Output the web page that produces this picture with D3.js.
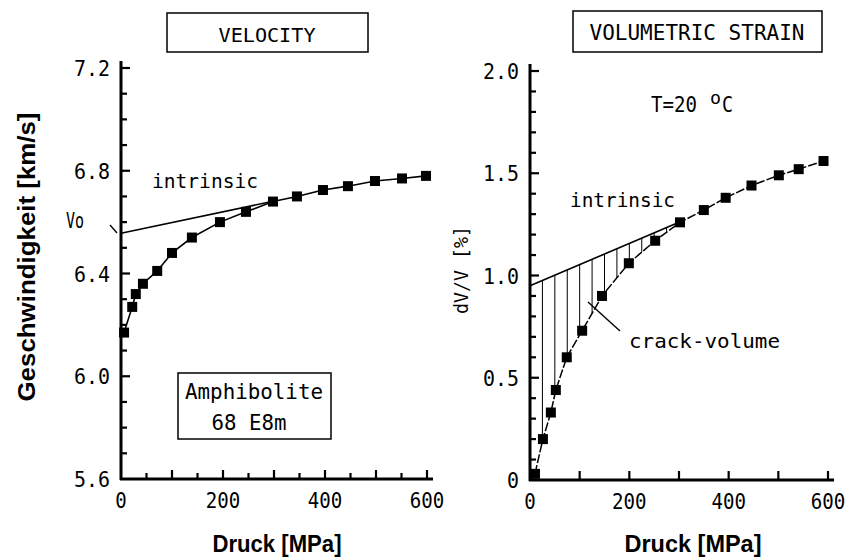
<!DOCTYPE html>
<html>
<head>
<meta charset="utf-8">
<script src="https://cdn.jsdelivr.net/npm/d3@7"></script>
<style>
  body { margin: 0; background: #fff; }
  svg { display: block; }
</style>
</head>
<body>
<div id="chart"></div>
<script>
const WIDTH = 851, HEIGHT = 558;
const PLOT_FONT = "'DejaVu Sans Mono', monospace";
const BOLD_FONT = "'Liberation Sans', Arial, sans-serif";

// velocity panel
const velPressure = [6, 22, 29, 43, 71, 100, 139, 194, 245, 298, 345, 396, 445, 498, 551, 598];
const velValues   = [6.17, 6.27, 6.32, 6.36, 6.41, 6.48, 6.54, 6.60, 6.64, 6.68, 6.70, 6.725, 6.74, 6.76, 6.77, 6.78];
const velIntrinsicP = [0, 300];
const velIntrinsicV = [6.557, 6.682];
const velTickLabels = [5.6, 6.0, 6.4, 6.8, 7.2];

// volumetric strain panel
const strPressure = [10, 26, 42, 52, 74, 105, 145, 199, 252, 302, 350, 394, 446, 501, 541, 591];
const strValues   = [0.03, 0.20, 0.33, 0.44, 0.60, 0.73, 0.90, 1.06, 1.17, 1.26, 1.32, 1.38, 1.44, 1.49, 1.52, 1.56];
const strIntrinsicP = [0, 300];
const strIntrinsicV = [0.95, 1.26];
const strTickLabels = [0, 0.5, 1.0, 1.5, 2.0];

const pressureLabels = [0, 200, 400, 600];

const svg = d3.select("#chart").append("svg")
  .attr("width", WIDTH).attr("height", HEIGHT);

// plotter style text, squeezed to the width seen in the picture
function ptext(g, x, y, str, len, size, anchor) {
  const t = g.append("text")
    .attr("x", x).attr("y", y)
    .attr("font-family", PLOT_FONT)
    .attr("font-size", size || 21)
    .attr("text-anchor", anchor || "start")
    .text(str);
  if (len) t.attr("textLength", len).attr("lengthAdjust", "spacingAndGlyphs");
  return t;
}

function panel(opt) {
  const g = svg.append("g");
  const x = d3.scaleLinear().domain([0, 600]).range(opt.xRange);
  const y = d3.scaleLinear().domain(opt.yDomain).range(opt.yRange);
  const x0 = x(0), y0 = y(opt.yDomain[0]);

  const isLab = (arr, d) => arr.some(l => Math.abs(l - d) < 1e-6);

  // x ticks (pointing up into the plot)
  const xTicks = d3.range(opt.xStep, 601, opt.xStep);
  g.selectAll("line.xt").data(xTicks).enter().append("line")
    .attr("class", "xt")
    .attr("x1", d => x(d)).attr("x2", d => x(d))
    .attr("y1", y0).attr("y2", d => y0 - (d % 100 === 0 ? 9 : 6))
    .attr("stroke", "#000").attr("stroke-width", 2.2);
  g.selectAll("text.xl").data(pressureLabels).enter().append("text")
    .attr("class", "xl")
    .attr("x", d => x(d)).attr("y", y0 + 29)
    .attr("text-anchor", "middle")
    .attr("font-family", PLOT_FONT).attr("font-size", 21)
    .attr("textLength", d => String(d).length * 11.5)
    .attr("lengthAdjust", "spacingAndGlyphs")
    .text(d => d);

  // y ticks (pointing right into the plot)
  const yTicks = d3.range(1, opt.nMinor + 1).map(i => opt.yDomain[0] + i * opt.minor);
  g.selectAll("line.yt").data(yTicks).enter().append("line")
    .attr("class", "yt")
    .attr("x1", x0).attr("x2", d => x0 + (isLab(opt.labels, d) ? 9 : 6))
    .attr("y1", d => y(d)).attr("y2", d => y(d))
    .attr("stroke", "#000").attr("stroke-width", 2.2);
  g.selectAll("text.yl").data(opt.labels).enter().append("text")
    .attr("class", "yl")
    .attr("x", x0 - 11).attr("y", d => y(d) + 8)
    .attr("text-anchor", "end")
    .attr("font-family", PLOT_FONT).attr("font-size", 21)
    .attr("textLength", d => (d === 0 ? 1 : 3) * 12)
    .attr("lengthAdjust", "spacingAndGlyphs")
    .text(d => d === 0 ? "0" : d.toFixed(1));

  // axis lines, running a little past the last tick
  g.append("line")
    .attr("x1", x0 - 1).attr("x2", x(600) + 6)
    .attr("y1", y0).attr("y2", y0)
    .attr("stroke", "#000").attr("stroke-width", 3);
  g.append("line")
    .attr("x1", x0).attr("x2", x0)
    .attr("y1", y0 + 1).attr("y2", y(opt.yDomain[1]) - 7)
    .attr("stroke", "#000").attr("stroke-width", 3);

  return { g, x, y };
}

const line = (x, y) => d3.line().x(d => x(d[0])).y(d => y(d[1]));

// ---------- left: velocity ----------
const L = panel({
  xRange: [121, 427], yDomain: [5.6, 7.2], yRange: [479, 68],
  xStep: 50, minor: 0.1, nMinor: 16, labels: velTickLabels
});

L.g.append("path")
  .datum(velIntrinsicP.map((p, i) => [p, velIntrinsicV[i]]))
  .attr("d", line(L.x, L.y))
  .attr("fill", "none").attr("stroke", "#000").attr("stroke-width", 1.6);

L.g.append("path")
  .datum(velPressure.map((p, i) => [p, velValues[i]]))
  .attr("d", line(L.x, L.y))
  .attr("fill", "none").attr("stroke", "#000").attr("stroke-width", 1.6);

L.g.selectAll("rect.pt")
  .data(velPressure.map((p, i) => [p, velValues[i]]))
  .enter().append("rect")
  .attr("class", "pt")
  .attr("x", d => L.x(d[0]) - 5).attr("y", d => L.y(d[1]) - 5)
  .attr("width", 10).attr("height", 10).attr("fill", "#000");

// title box
svg.append("rect").attr("x", 167).attr("y", 13).attr("width", 201).attr("height", 39)
  .attr("fill", "none").attr("stroke", "#000").attr("stroke-width", 1.5);
ptext(svg, 267, 42, "VELOCITY", 97, 20, "middle");

ptext(svg, 152, 188, "intrinsic", 106, 20);
ptext(svg, 66, 228, "Vo", 18, 21);
svg.append("line").attr("x1", 110).attr("y1", 225).attr("x2", 117).attr("y2", 233)
  .attr("stroke", "#000").attr("stroke-width", 1.4);

svg.append("rect").attr("x", 178).attr("y", 373).attr("width", 153).attr("height", 66)
  .attr("fill", "none").attr("stroke", "#000").attr("stroke-width", 1.5);
ptext(svg, 254, 399, "Amphibolite", 138, 21, "middle");
ptext(svg, 249, 430, "68 E8m", 75, 21, "middle");

svg.append("text")
  .attr("transform", "translate(35,257) rotate(-90)")
  .attr("text-anchor", "middle")
  .attr("font-family", BOLD_FONT).attr("font-weight", "bold").attr("font-size", 24)
  .attr("textLength", 289).attr("lengthAdjust", "spacingAndGlyphs")
  .text("Geschwindigkeit  [km/s]");

svg.append("text")
  .attr("x", 277).attr("y", 552).attr("text-anchor", "middle")
  .attr("font-family", BOLD_FONT).attr("font-weight", "bold").attr("font-size", 23)
  .attr("textLength", 129).attr("lengthAdjust", "spacingAndGlyphs")
  .text("Druck [MPa]");

// ---------- right: volumetric strain ----------
const R = panel({
  xRange: [530, 828], yDomain: [0, 2.0], yRange: [480, 71],
  xStep: 100, minor: 0.1, nMinor: 20, labels: strTickLabels
});

const strData = strPressure.map((p, i) => [p, strValues[i]]);
const strIntr = strIntrinsicP.map((p, i) => [p, strIntrinsicV[i]]);

// hatched crack volume: area between intrinsic line and measured curve
const lastP = strIntrinsicP[strIntrinsicP.length - 1];
const lower = strData.filter(d => d[0] <= lastP).reverse();
const clipPts = strIntr.concat(lower).concat([[0, lower[lower.length - 1][1]]]);
svg.append("clipPath").attr("id", "crackClip")
  .append("path")
  .attr("d", d3.line().x(d => R.x(d[0])).y(d => R.y(d[1]))(clipPts) + "Z");

R.g.append("g").attr("clip-path", "url(#crackClip)")
  .selectAll("line")
  .data(d3.range(25, lastP, 25))
  .enter().append("line")
  .attr("x1", d => R.x(d)).attr("x2", d => R.x(d))
  .attr("y1", R.y(2)).attr("y2", R.y(0))
  .attr("stroke", "#000").attr("stroke-width", 1);

R.g.append("path").datum(strIntr)
  .attr("d", line(R.x, R.y))
  .attr("fill", "none").attr("stroke", "#000").attr("stroke-width", 1.6);

R.g.append("path").datum(strData)
  .attr("d", line(R.x, R.y))
  .attr("fill", "none").attr("stroke", "#000").attr("stroke-width", 1.5)
  .attr("stroke-dasharray", "9,2");

R.g.selectAll("rect.pt")
  .data(strData)
  .enter().append("rect")
  .attr("class", "pt")
  .attr("x", d => R.x(d[0]) - 5).attr("y", d => R.y(d[1]) - 5)
  .attr("width", 10).attr("height", 10).attr("fill", "#000");

svg.append("rect").attr("x", 573).attr("y", 11).attr("width", 249).attr("height", 41)
  .attr("fill", "none").attr("stroke", "#000").attr("stroke-width", 1.5);
ptext(svg, 697, 40, "VOLUMETRIC STRAIN", 215, 21, "middle");

ptext(svg, 651, 112, "T=20", 46, 21);
ptext(svg, 710, 104, "o", 11, 17);
ptext(svg, 722, 112, "C", 11, 21);

ptext(svg, 570, 207, "intrinsic", 105, 20);
ptext(svg, 629, 348, "crack-volume", 151, 20);
svg.append("line").attr("x1", 620).attr("y1", 331).attr("x2", 588).attr("y2", 302)
  .attr("stroke", "#000").attr("stroke-width", 1.4);

ptext(svg, 0, 0, "dV/V [%]", 88, 20, "middle")
  .attr("transform", "translate(468,270) rotate(-90)");

svg.append("text")
  .attr("x", 693).attr("y", 552).attr("text-anchor", "middle")
  .attr("font-family", BOLD_FONT).attr("font-weight", "bold").attr("font-size", 23)
  .attr("textLength", 137).attr("lengthAdjust", "spacingAndGlyphs")
  .text("Druck [MPa]");
</script>
</body>
</html>
